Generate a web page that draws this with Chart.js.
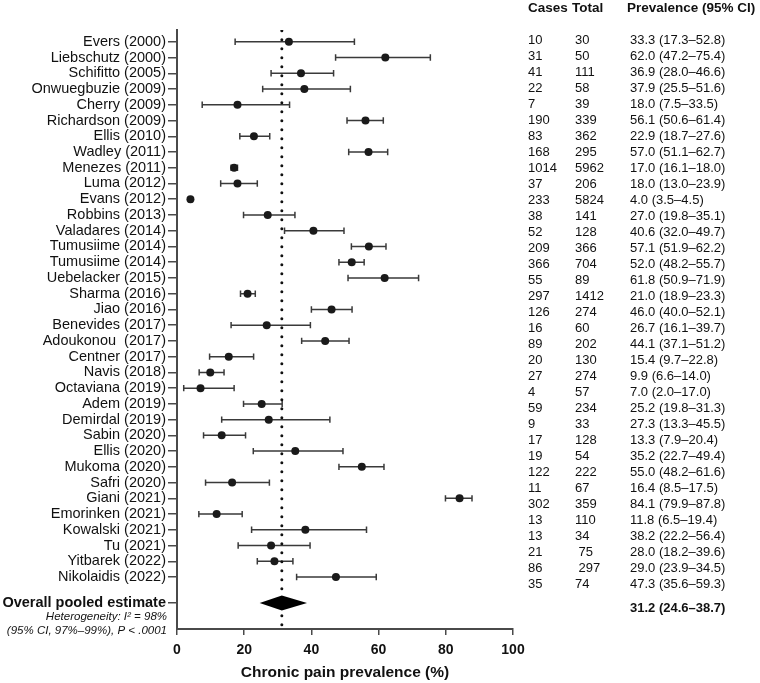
<!DOCTYPE html>
<html>
<head>
<meta charset="utf-8">
<script src="https://cdn.jsdelivr.net/npm/chart.js@4.4.0/dist/chart.umd.min.js"></script>
<style>
  html, body { margin: 0; padding: 0; background: #fff; }
  canvas { display: block; }
</style>
</head>
<body>
<canvas id="forest" width="760" height="683"></canvas>
<script>
const studies = ['Evers (2000)', 'Liebschutz (2000)', 'Schifitto (2005)', 'Onwuegbuzie (2009)', 'Cherry (2009)',
  'Richardson (2009)', 'Ellis (2010)', 'Wadley (2011)', 'Menezes (2011)', 'Luma (2012)', 'Evans (2012)',
  'Robbins (2013)', 'Valadares (2014)', 'Tumusiime (2014)', 'Tumusiime (2014)', 'Uebelacker (2015)',
  'Sharma (2016)', 'Jiao (2016)', 'Benevides (2017)', 'Adoukonou  (2017)', 'Centner (2017)', 'Navis (2018)',
  'Octaviana (2019)', 'Adem (2019)', 'Demirdal (2019)', 'Sabin (2020)', 'Ellis (2020)', 'Mukoma (2020)',
  'Safri (2020)', 'Giani (2021)', 'Emorinken (2021)', 'Kowalski (2021)', 'Tu (2021)', 'Yitbarek (2022)',
  'Nikolaidis (2022)'];
const cases = ['10', '31', '41', '22', '7', '190', '83', '168', '1014', '37', '233', '38', '52', '209', '366', '55',
  '297', '126', '16', '89', '20', '27', '4', '59', '9', '17', '19', '122', '11', '302', '13', '13', '21', '86', '35'];
const totals = ['30', '50', '111', '58', '39', '339', '362', '295', '5962', '206', '5824', '141', '128', '366', '704',
  '89', '1412', '274', '60', '202', '130', '274', '57', '234', '33', '128', '54', '222', '67', '359', '110', '34',
  ' 75', ' 297', '74'];
const prevalence = [33.3, 62.0, 36.9, 37.9, 18.0, 56.1, 22.9, 57.0, 17.0, 18.0, 4.0, 27.0, 40.6, 57.1, 52.0, 61.8,
  21.0, 46.0, 26.7, 44.1, 15.4, 9.9, 7.0, 25.2, 27.3, 13.3, 35.2, 55.0, 16.4, 84.1, 11.8, 38.2, 28.0, 29.0, 47.3];
// plotted interval ends (Safri's bar is drawn to ~27.5 in the figure)
const ciLow = [17.3, 47.2, 28.0, 25.5, 7.5, 50.6, 18.7, 51.1, 16.1, 13.0, 3.5, 19.8, 32.0, 51.9, 48.2, 50.9,
  18.9, 40.0, 16.1, 37.1, 9.7, 6.6, 2.0, 19.8, 13.3, 7.9, 22.7, 48.2, 8.5, 79.9, 6.5, 22.2, 18.2, 23.9, 35.6];
const ciHigh = [52.8, 75.4, 46.6, 51.6, 33.5, 61.4, 27.6, 62.7, 18.0, 23.9, 4.5, 35.1, 49.7, 62.2, 55.7, 71.9,
  23.3, 52.1, 39.7, 51.2, 22.8, 14.0, 17.0, 31.3, 45.5, 20.4, 49.4, 61.6, 27.5, 87.8, 19.4, 56.4, 39.6, 34.5, 59.3];
// the table column as printed
const ciText = ['33.3 (17.3–52.8)', '62.0 (47.2–75.4)', '36.9 (28.0–46.6)', '37.9 (25.5–51.6)', '18.0 (7.5–33.5)',
  '56.1 (50.6–61.4)', '22.9 (18.7–27.6)', '57.0 (51.1–62.7)', '17.0 (16.1–18.0)', '18.0 (13.0–23.9)',
  '4.0 (3.5–4.5)', '27.0 (19.8–35.1)', '40.6 (32.0–49.7)', '57.1 (51.9–62.2)', '52.0 (48.2–55.7)',
  '61.8 (50.9–71.9)', '21.0 (18.9–23.3)', '46.0 (40.0–52.1)', '26.7 (16.1–39.7)', '44.1 (37.1–51.2)',
  '15.4 (9.7–22.8)', '9.9 (6.6–14.0)', '7.0 (2.0–17.0)', '25.2 (19.8–31.3)', '27.3 (13.3–45.5)',
  '13.3 (7.9–20.4)', '35.2 (22.7–49.4)', '55.0 (48.2–61.6)', '16.4 (8.5–17.5)', '84.1 (79.9–87.8)',
  '11.8 (6.5–19.4)', '38.2 (22.2–56.4)', '28.0 (18.2–39.6)', '29.0 (23.9–34.5)', '47.3 (35.6–59.3)'];
const pooled = [31.2, 24.6, 38.7];
const pooledText = '31.2 (24.6–38.7)';
const pooledLabel = 'Overall pooled estimate';
const heterogeneity = ['Heterogeneity: I² = 98%', '(95% CI, 97%–99%), P < .0001'];
const tableHeader = ['Cases', 'Total', 'Prevalence (95% CI)'];
const xTicks = [0, 20, 40, 60, 80, 100];

const FONT = "'Liberation Sans', Arial, Helvetica, sans-serif";
const pooledRow = 35.65;
const yMin = -0.75;
const yMax = 37.3;

const forestMarks = {
  id: 'forestMarks',
  beforeDatasetsDraw(chart) {
    const {ctx, scales: {x, y}} = chart;
    ctx.save();
    ctx.strokeStyle = '#3a3a3a';
    ctx.lineWidth = 1.5;
    for (let i = 0; i < studies.length; i++) {
      const py = y.getPixelForValue(i);
      const x1 = x.getPixelForValue(ciLow[i]);
      const x2 = x.getPixelForValue(ciHigh[i]);
      ctx.beginPath();
      ctx.moveTo(x1, py);
      ctx.lineTo(x2, py);
      ctx.moveTo(x1, py - 3.2);
      ctx.lineTo(x1, py + 3.2);
      ctx.moveTo(x2, py - 3.2);
      ctx.lineTo(x2, py + 3.2);
      ctx.stroke();
    }
    ctx.restore();
  },
  afterDatasetsDraw(chart) {
    const {ctx, scales: {x, y}} = chart;
    const py = y.getPixelForValue(pooledRow);
    ctx.save();
    ctx.fillStyle = '#000';
    ctx.beginPath();
    ctx.moveTo(x.getPixelForValue(pooled[1]), py);
    ctx.lineTo(x.getPixelForValue(pooled[0]), py - 7.5);
    ctx.lineTo(x.getPixelForValue(pooled[2]), py);
    ctx.lineTo(x.getPixelForValue(pooled[0]), py + 7.5);
    ctx.closePath();
    ctx.fill();
    ctx.restore();
  },
  afterDraw(chart) {
    const {ctx, scales: {y}} = chart;
    ctx.save();
    ctx.fillStyle = '#111';
    ctx.textBaseline = 'middle';

    // heterogeneity note under the pooled label
    ctx.textAlign = 'right';
    ctx.font = 'italic 11.5px ' + FONT;
    const py = y.getPixelForValue(pooledRow);
    ctx.fillText(heterogeneity[0], y.right - 10, py + 13.5);
    ctx.fillText(heterogeneity[1], y.right - 10, py + 27.5);

    // table on the right
    ctx.textAlign = 'left';
    ctx.font = 'bold 13.5px ' + FONT;
    ctx.fillText(tableHeader[0], 528, 8);
    ctx.fillText(tableHeader[1], 572, 8);
    ctx.fillText(tableHeader[2], 627, 8);
    ctx.font = '13px ' + FONT;
    for (let i = 0; i < studies.length; i++) {
      const ty = 40 + i * 16;
      ctx.fillText(cases[i], 528, ty);
      ctx.fillText(totals[i], 575, ty);
      ctx.fillText(ciText[i], 630, ty);
    }
    ctx.font = 'bold 13px ' + FONT;
    ctx.fillText(pooledText, 630, 608);
    ctx.restore();
  }
};

new Chart(document.getElementById('forest'), {
  type: 'scatter',
  data: {
    datasets: [{
      data: prevalence.map((v, i) => ({x: v, y: i})),
      pointRadius: 4,
      pointHoverRadius: 4,
      backgroundColor: '#1a1a1a',
      borderWidth: 0
    }, {
      type: 'line',
      data: [{x: pooled[0], y: yMin + 0.05}, {x: pooled[0], y: yMax - 0.1}],
      borderColor: '#111',
      borderWidth: 3,
      borderDash: [0, 9],
      borderCapStyle: 'round',
      pointRadius: 0,
      fill: false
    }]
  },
  options: {
    responsive: false,
    devicePixelRatio: 1,
    animation: false,
    layout: {padding: {left: 0, right: 247, top: 30, bottom: 0}},
    plugins: {legend: {display: false}, tooltip: {enabled: false}},
    scales: {
      x: {
        type: 'linear',
        min: 0,
        max: 100,
        afterBuildTicks: s => { s.ticks = xTicks.map(v => ({value: v})); },
        afterFit: s => { s.height = 54; },
        ticks: {color: '#111', padding: 7, font: {family: FONT, size: 14, weight: 'bold'}},
        grid: {drawOnChartArea: false, tickLength: 6, color: '#4a4a4a', lineWidth: 1.5},
        border: {color: '#4a4a4a', width: 2},
        title: {
          display: true,
          text: 'Chronic pain prevalence (%)',
          color: '#111',
          font: {family: FONT, size: 15.5, weight: 'bold'},
          padding: {top: 0, bottom: 1}
        }
      },
      y: {
        type: 'linear',
        reverse: true,
        min: yMin,
        max: yMax,
        afterBuildTicks: s => {
          s.ticks = studies.map((_, i) => ({value: i})).concat([{value: pooledRow}]);
        },
        afterFit: s => { s.width = 177; },
        ticks: {
          autoSkip: false,
          color: '#111',
          padding: 2,
          callback: (v, i) => i < studies.length ? studies[i] : pooledLabel,
          font: c => c.index === studies.length
            ? {family: FONT, size: 14.5, weight: 'bold'}
            : {family: FONT, size: 14.5}
        },
        grid: {drawOnChartArea: false, tickLength: 9, color: '#4a4a4a', lineWidth: 1.5},
        border: {color: '#4a4a4a', width: 2}
      }
    }
  },
  plugins: [forestMarks]
});
</script>
</body>
</html>
